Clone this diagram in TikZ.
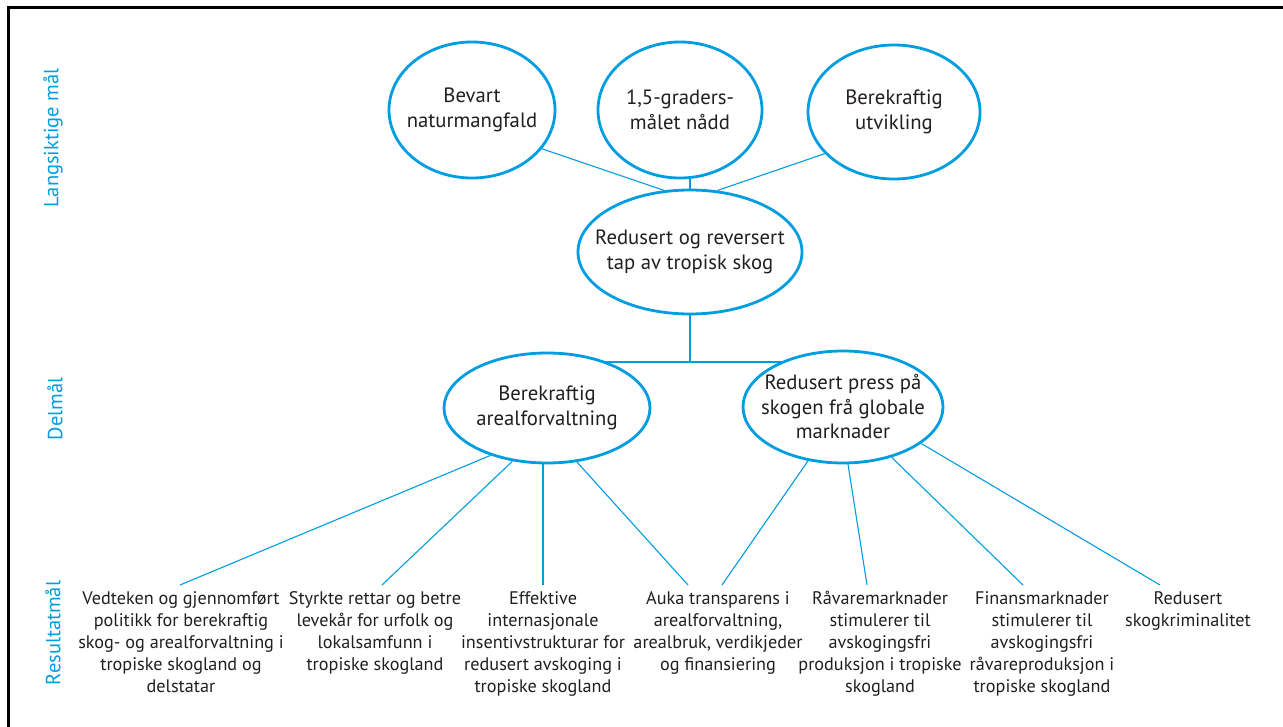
\documentclass[tikz,border=0pt]{standalone}
\usepackage{fontspec}
\setmainfont{PT Sans}
\usetikzlibrary{shapes.geometric,backgrounds}
\definecolor{cblue}{RGB}{0,158,224}
\definecolor{ctext}{RGB}{35,31,32}
\begin{document}
\begin{tikzpicture}[x=1pt,y=-1pt,
  goal/.style={ellipse,draw=cblue,line width=2.8pt,fill=white,inner xsep=-30pt,inner ysep=-10pt,align=center,text=ctext,font=\fontsize{20.7}{24.5}\selectfont},
  res/.style={anchor=north,align=center,text=ctext,font=\fontsize{18.2}{22}\selectfont,inner sep=0pt},
  thinline/.style={draw=cblue,line width=1.1pt},
  thickline/.style={draw=cblue,line width=2.8pt},
  side/.style={rotate=90,text=cblue,font=\fontsize{20.5}{22}\selectfont,inner sep=0pt}]
\begin{scope}[on background layer]
\fill[white] (0,0) rectangle (1283,727);
\end{scope}
\useasboundingbox (0,0) rectangle (1283,727);
\draw[line width=3pt] (8,727) -- (8,8) -- (1283,8);

% side labels
\node[side] (s1) at (53,138) {Langsiktige mål};
\node[side] (s2) at (55,409) {Delmål};
\node[side] (s3) at (53,633) {Resultatmål};

% goals
\node[goal,minimum width=166,minimum height=136] (A) at (472,110) {Bevart\\naturmangfald};
\node[goal,minimum width=164,minimum height=136] (B) at (680,110) {1,5-graders-\\målet nådd};
\node[goal,minimum width=172,minimum height=134] (C) at (894,112) {Berekraftig\\utvikling};
\node[goal,minimum width=224,minimum height=124] (M) at (690,252) {Redusert og reversert\\tap av tropisk skog};
\node[goal,minimum width=206,minimum height=110] (D) at (547,408) {Berekraftig\\arealforvaltning};
\node[goal,minimum width=200,minimum height=112] (E) at (843,407) {Redusert press på\\skogen frå globale\\marknader};

% results
\node[res] (r1) at (181,591) {Vedteken og gjennomført\\politikk for berekraftig\\skog- og arealforvaltning i\\tropiske skogland og\\delstatar};
\node[res] (r2) at (375,591) {Styrkte rettar og betre\\levekår for urfolk og\\lokalsamfunn i\\tropiske skogland};
\node[res] (r3) at (543,591) {Effektive\\internasjonale\\insentivstrukturar for\\redusert avskoging i\\tropiske skogland};
\node[res] (r4) at (718,591) {Auka transparens i\\arealforvaltning,\\arealbruk, verdikjeder\\og finansiering};
\node[res] (r5) at (880,591) {Råvaremarknader\\stimulerer til\\avskogingsfri\\produksjon i tropiske\\skogland};
\node[res] (r6) at (1042,591) {Finansmarknader\\stimulerer til\\avskogingsfri\\råvareproduksjon i\\tropiske skogland};
\node[res] (r7) at (1188,591) {Redusert\\skogkriminalitet};

\begin{scope}[on background layer]
  % top level
  \draw[thinline] (A.331) -- (M.113);
  \draw[thinline] (B.south -| M.north) -- (M.north);
  \draw[thinline] (C.211) -- (M.66);
  % delmål
  \coordinate (J) at (690,362);
  \draw[thickline] (M.south) -- (J);
  \draw[thickline] (D.center |- J) -- (E.center |- J);
  % results from D
  \draw[thinline] (D.220) -- ([shift={(-1,-6)}]r1.north);
  \draw[thinline] (D.237) -- ([shift={(7,-6)}]r2.north);
  \draw[thinline] (D.south -| r3.north) -- ([shift={(0,-6)}]r3.north);
  \draw[thinline] (D.299) -- ([shift={(-30,-6)}]r4.north);
  % results from E
  \draw[thinline] (E.237) -- ([shift={(4,-6)}]r4.north);
  \draw[thinline] (E.275) -- ([shift={(-13,-6)}]r5.north);
  \draw[thinline] (E.314) -- ([shift={(-19,-6)}]r6.north);
  \draw[thinline] (E.335) -- ([shift={(-28,-6)}]r7.north);
\end{scope}
\end{tikzpicture}
\end{document}
